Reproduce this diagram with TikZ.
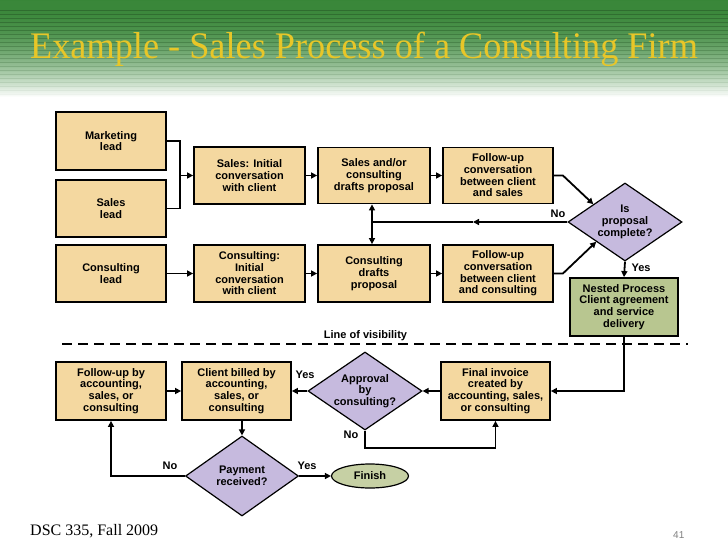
\documentclass[tikz,border=0pt]{standalone}
\usepackage{fontspec}
\setmainfont{Liberation Serif}
\newfontfamily\arialf{Liberation Sans}
\usetikzlibrary{shapes.geometric,arrows.meta,calc}
\definecolor{boxtan}{RGB}{244,216,160}
\definecolor{decpurple}{RGB}{198,186,222}
\definecolor{nestgreen}{RGB}{184,198,144}
\definecolor{fingreen}{RGB}{198,208,164}
\definecolor{bandgreen}{RGB}{56,134,56}
\definecolor{titleyellow}{RGB}{232,198,40}
\tikzset{
  base/.style={font=\arialf\bfseries\fontsize{11}{11.7}\selectfont, align=center, inner sep=0pt},
  procbox/.style={base, draw, line width=1.8pt, fill=boxtan, minimum width=110pt, minimum height=58pt},
  decide/.style={base, diamond, draw, line width=1.2pt, fill=decpurple, shape aspect=1.46, minimum width=114pt, minimum height=78pt},
  conn/.style={line width=1.8pt},
  arr/.style={conn, -{Triangle[length=6pt,width=6pt]}},
  dbl/.style={conn, {Triangle[length=6pt,width=6pt]}-{Triangle[length=6pt,width=6pt]}},
  lbl/.style={base},
  visline/.style={line width=2pt, dash pattern=on 10pt off 6pt}
}
\begin{document}
\begin{tikzpicture}[x=1pt,y=-1pt]
\useasboundingbox (0,0) rectangle (728,546);
\fill[white] (0,0) rectangle (728,546);
% header band
\foreach \yy in {0,...,96} {
  \pgfmathtruncatemacro\f{100*(1-(\yy/97)^2)}
  \fill[bandgreen!\f!white] (0,\yy) rectangle (728,\yy+1.1);
}
\foreach \yy in {10,14,...,94} {
  \pgfmathsetmacro\o{0.55*(1-\yy/100)}
  \draw[bandgreen!60!black, opacity=\o, line width=0.6pt] (0,\yy) -- (728,\yy);
}
\node[text=titleyellow, font=\fontsize{37.5}{40}\selectfont, xscale=0.967, anchor=base west, inner sep=0pt] (title) at (30,58) {Example - Sales Process of a Consulting Firm};

% upper process
\node[procbox] (ml) at (111,141) {Marketing\\lead};
\node[procbox, minimum height=57pt] (sl) at (111,208.5) {Sales\\lead};
\node[procbox, minimum height=57pt] (cl) at (111,273.5) {Consulting\\lead};
\node[procbox, minimum width=111pt, minimum height=57pt] (si) at (249.5,175.5) {Sales: Initial\\conversation\\with client};
\node[procbox, minimum width=111pt, minimum height=57pt] (ci) at (249.5,273.5) {Consulting:\\Initial\\conversation\\with client};
\node[procbox, minimum width=112pt, minimum height=56pt] (sd) at (374,175.5) {Sales and/or\\consulting\\drafts proposal};
\node[procbox, minimum height=56pt] (fs) at (498,175.5) {Follow-up\\conversation\\between client\\and sales};
\node[procbox, minimum width=112pt, minimum height=57pt] (cd) at (374,273.5) {Consulting\\drafts\\proposal};
\node[procbox, minimum height=57pt] (fc) at (498,273.5) {Follow-up\\conversation\\between client\\and consulting};
\node[decide] (ip) at (625,222) {Is\\proposal\\complete?};
\node[procbox, fill=nestgreen, minimum width=108pt] (np) at (624,307) {Nested Process\\Client agreement\\and service\\delivery};

% lower process
\node[procbox, minimum width=109pt] (fi) at (495.5,391) {Final invoice\\created by\\accounting, sales,\\or consulting};
\node[decide] (ap) at (365,391) {Approval\\by\\consulting?};
\node[procbox, minimum width=109pt] (cb) at (236.5,391) {Client billed by\\accounting,\\sales, or\\consulting};
\node[procbox] (fa) at (111,391) {Follow-up by\\accounting,\\sales, or\\consulting};
\node[decide, minimum width=113pt, minimum height=80pt] (pr) at (242,476) {Payment\\received?};
\node[base, ellipse, draw, line width=1.2pt, fill=fingreen, minimum width=77pt, minimum height=24pt] (fin) at (370,476) {Finish};

% connectors, upper
\coordinate (brk) at (180,175.5);
\draw[conn] (ml.east) -- (ml.east -| brk) -- (sl.east -| brk) -- (sl.east);
\draw[arr] (brk) -- (si.west |- brk);
\draw[arr] (si.east) -- (si.east -| sd.west);
\draw[arr] (sd.east) -- (sd.east -| fs.west);
\draw[arr] (cl.east) -- (cl.east -| ci.west);
\draw[arr] (ci.east) -- (ci.east -| cd.west);
\draw[arr] (cd.east) -- (cd.east -| fc.west);
\draw[arr] (fs.east) -- ++(9,0) -- ($(ip.west)!0.45!(ip.north)$);
\draw[arr] (fc.east) -- ++(9,0) -- ($(ip.west)!0.5!(ip.south)$);
\coordinate (jn) at (372,222);
\coordinate (nomid) at (473,222);
\draw[dbl] (jn |- sd.south) -- (jn |- cd.north);
\draw[arr] (ip.west) -- (nomid);
\draw[conn] (nomid) -- (jn);
\draw[arr] (ip.south) -- (np.north);
\node[lbl] (no1) at (558,214) {No};
\node[lbl] (yes1) at (641,268) {Yes};

% line of visibility
\coordinate (vl) at (62,344);
\coordinate (vr) at (688,344);
\draw[visline] (vl) -- (vr);
\node[lbl, anchor=base] (vis) at (365.5,338) {Line of visibility};

% connectors, lower
\draw[arr] (np.south) |- (fi.east);
\draw[arr] (fi.west) -- (ap.east);
\draw[arr] (ap.west) -- (cb.east);
\draw[arr] (ap.south) -- ++(0,17) -| (fi.south);
\draw[arr] (fa.east) -- (cb.west);
\draw[arr] (cb.south -| pr.north) -- (pr.north);
\draw[arr] (pr.west) -| (fa.south);
\draw[arr] (pr.east) -- (fin.west);
\node[lbl] (yes2) at (305,375) {Yes};
\node[lbl] (no2) at (351,435) {No};
\node[lbl] (no3) at (170,466) {No};
\node[lbl] (yes3) at (307,466) {Yes};

% footer
\node[anchor=base west, font=\fontsize{16}{18}\selectfont, inner sep=0pt] (foot) at (30,535) {DSC 335, Fall 2009};
\node[anchor=base west, font=\arialf\fontsize{10}{11}\selectfont, text=gray, inner sep=0pt] (pg) at (673,538) {41};
\end{tikzpicture}
\end{document}
